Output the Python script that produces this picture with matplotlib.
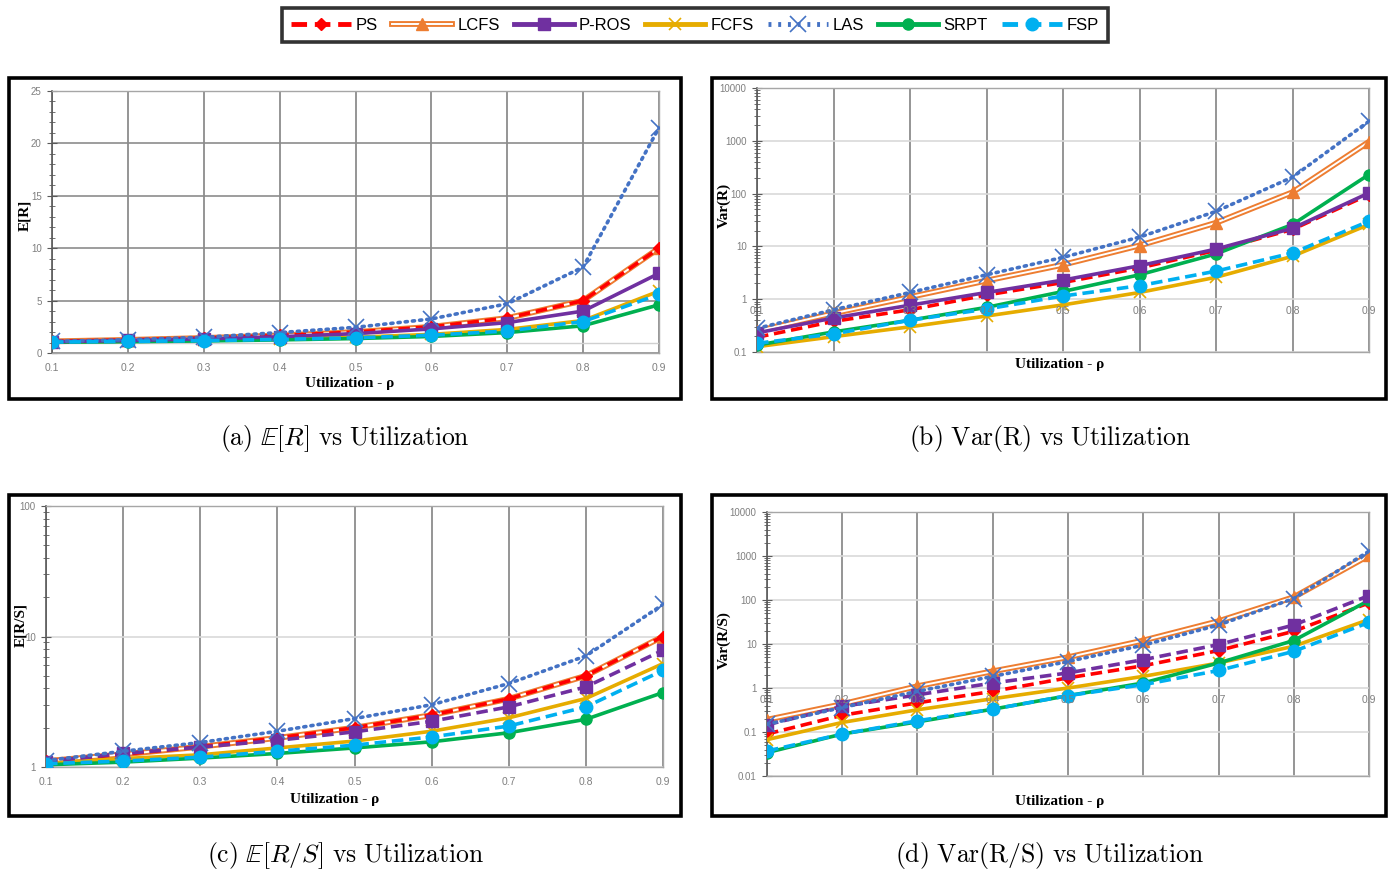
import matplotlib.pyplot as plt
from matplotlib.lines import Line2D
from matplotlib.patches import Rectangle
from matplotlib.ticker import MultipleLocator, LogLocator, NullFormatter
import numpy as np

plt.rcParams['mathtext.fontset'] = 'cm'

rho = [0.1, 0.2, 0.3, 0.4, 0.5, 0.6, 0.7, 0.8, 0.9]
rho_labels = ["0.1", "0.2", "0.3", "0.4", "0.5", "0.6", "0.7", "0.8", "0.9"]
schemes = ["PS", "LCFS", "P-ROS", "FCFS", "LAS", "SRPT", "FSP"]

# (a) E[R]
er_ps = [1.11, 1.25, 1.43, 1.67, 2.0, 2.5, 3.33, 5.0, 10.0]
er_lcfs = [1.11, 1.25, 1.43, 1.67, 2.0, 2.5, 3.33, 5.0, 10.0]
er_pros = [1.08, 1.2, 1.35, 1.55, 1.85, 2.3, 2.9, 4.0, 7.6]
er_fcfs = [1.05, 1.11, 1.2, 1.33, 1.5, 1.78, 2.25, 3.1, 5.9]
er_las = [1.1, 1.27, 1.5, 1.95, 2.45, 3.25, 4.7, 8.2, 21.5]
er_srpt = [1.03, 1.08, 1.15, 1.25, 1.38, 1.58, 1.95, 2.6, 4.6]
er_fsp = [1.04, 1.1, 1.18, 1.3, 1.45, 1.7, 2.1, 3.0, 5.6]

# (b) Var(R)
vr_ps = [0.19, 0.38, 0.63, 1.2, 2.07, 3.9, 8.4, 21, 96]
vr_lcfs = [0.25, 0.54, 1.1, 2.25, 4.5, 10.4, 28, 106, 960]
vr_pros = [0.23, 0.44, 0.77, 1.34, 2.3, 4.3, 8.9, 22, 103]
vr_fcfs = [0.126, 0.195, 0.30, 0.48, 0.78, 1.34, 2.6, 6.5, 26]
vr_las = [0.28, 0.63, 1.34, 2.9, 6.2, 15, 46, 205, 2350]
vr_srpt = [0.135, 0.24, 0.40, 0.70, 1.4, 2.9, 7.2, 26, 230]
vr_fsp = [0.146, 0.22, 0.40, 0.65, 1.15, 1.8, 3.4, 7.5, 30]

# (c) E[R/S]
ers_ps = [1.11, 1.25, 1.43, 1.67, 2.0, 2.5, 3.33, 5.0, 10.0]
ers_lcfs = [1.11, 1.25, 1.43, 1.67, 2.0, 2.5, 3.33, 5.0, 10.0]
ers_pros = [1.1, 1.27, 1.42, 1.6, 1.86, 2.24, 2.89, 4.11, 7.85]
ers_fcfs = [1.07, 1.16, 1.24, 1.4, 1.58, 1.88, 2.38, 3.35, 6.2]
ers_las = [1.12, 1.32, 1.54, 1.88, 2.35, 3.0, 4.36, 7.1, 17.6]
ers_srpt = [1.04, 1.09, 1.17, 1.27, 1.4, 1.56, 1.83, 2.32, 3.72]
ers_fsp = [1.06, 1.11, 1.19, 1.32, 1.47, 1.7, 2.06, 2.89, 5.5]

# (d) Var(R/S)
vrs_ps = [0.09, 0.24, 0.46, 0.84, 1.7, 3.2, 7.1, 19.5, 86]
vrs_lcfs = [0.19, 0.43, 1.1, 2.4, 5.0, 12, 33, 116, 1030]
vrs_pros = [0.146, 0.38, 0.7, 1.3, 2.2, 4.4, 9.7, 27, 126]
vrs_fcfs = [0.067, 0.165, 0.32, 0.57, 1.0, 1.84, 3.7, 8.9, 36]
vrs_las = [0.15, 0.36, 0.84, 1.84, 4.0, 9.4, 27, 108, 1290]
vrs_srpt = [0.034, 0.09, 0.17, 0.33, 0.67, 1.3, 3.7, 12, 98]
vrs_fsp = [0.037, 0.09, 0.18, 0.33, 0.67, 1.19, 2.5, 6.8, 31]

W, H = 1391, 871
fig = plt.figure(figsize=(W / 100, H / 100), dpi=100)

ORANGE = '#ed7d31'
styles = {
    "PS": dict(color='#ff0000', ls=(0, (3.2, 1.6)), marker='D', ms=6),
    "P-ROS": dict(color='#7030a0', ls='-', marker='s', ms=8),
    "FCFS": dict(color='#e6ac00', ls='-', marker='x', ms=9),
    "LAS": dict(color='#4472c4', ls=(0, (0.6, 1.4)), marker='x', ms=11),
    "SRPT": dict(color='#00b050', ls='-', marker='o', ms=8),
    "FSP": dict(color='#00b0f0', ls=(0, (3.2, 1.6)), marker='o', ms=9),
}
draw_order = ["LCFS", "PS", "FCFS", "SRPT", "P-ROS", "LAS", "FSP"]

def px_axes(left, top, right, bottom):
    return fig.add_axes([left / W, 1 - bottom / H, (right - left) / W, (bottom - top) / H])

def frame(left, top, right, bottom):
    fig.patches.append(Rectangle((left / W, 1 - bottom / H), (right - left) / W,
                                 (bottom - top) / H, transform=fig.transFigure,
                                 fill=False, lw=2.6, ec='black'))

def draw_series(ax, data, pros_dashed):
    for name in draw_order:
        y = data[name]
        if name == "LCFS":
            ax.plot(rho, y, color=ORANGE, lw=4.2, solid_capstyle='butt', zorder=3)
            ax.plot(rho, y, color='white', lw=1.4, zorder=3)
            ax.plot(rho, y, ls='none', marker='^', ms=8, color=ORANGE, zorder=3)
            continue
        st = dict(styles[name])
        if name == "P-ROS" and pros_dashed:
            st['ls'] = (0, (3.2, 1.6))
        mew = 1.2 if st['marker'] == 'x' else 1
        ax.plot(rho, y, color=st['color'], ls=st['ls'], lw=2.6, marker=st['marker'],
                ms=st['ms'], mew=mew, dash_capstyle='round' if name == "LAS" else 'butt',
                zorder=4)

def style_axes(ax, hgrid_color):
    ax.set_xlim(0.1, 0.9)
    ax.set_xticks(rho)
    ax.grid(True, axis='x', color='#8c8c8c', lw=1.3)
    ax.grid(True, axis='y', which='major', color=hgrid_color, lw=1.2)
    ax.set_axisbelow(True)
    for s in ['top', 'right', 'bottom']:
        ax.spines[s].set_color('#a6a6a6')
        ax.spines[s].set_linewidth(1)
    ax.spines['left'].set_color('#595959')
    ax.spines['left'].set_linewidth(1.2)
    ax.tick_params(axis='y', which='both', direction='inout', color='#595959',
                   labelsize=7, labelcolor='#7f7f7f', pad=4)
    ax.tick_params(axis='y', which='major', length=7)
    ax.tick_params(axis='y', which='minor', length=5)
    ax.tick_params(axis='x', length=0, labelsize=7.5, labelcolor='#7f7f7f', pad=7)
    for lbl in ax.get_xticklabels() + ax.get_yticklabels():
        lbl.set_family('Liberation Sans')

def labels_at_one(ax):
    ax.set_xticklabels([])
    for x, lbl in zip(rho, rho_labels):
        ax.annotate(lbl, (x, 1), xytext=(0, -5), textcoords='offset points',
                    ha='center', va='top', fontsize=7.5, color='#7f7f7f',
                    family='Liberation Sans', annotation_clip=False, zorder=6)

def log_y(ax, lo, hi):
    ax.set_yscale('log')
    ax.set_ylim(lo, hi)
    ticks = [10.0 ** k for k in range(int(np.log10(lo)), int(np.log10(hi)) + 1)]
    ax.set_yticks(ticks, [("%g" % t) for t in ticks])
    ax.yaxis.set_minor_locator(LogLocator(base=10, subs=np.arange(2, 10)))
    ax.yaxis.set_minor_formatter(NullFormatter())

lab_font = dict(family='Liberation Serif', weight='bold', fontsize=11)
cap_font = dict(fontsize=18.5)

# ---------- (a) ----------
frame(9, 78, 681, 399)
ax = px_axes(52, 91, 659, 353)
style_axes(ax, '#8c8c8c')
ax.set_ylim(0, 25)
ax.yaxis.set_major_locator(MultipleLocator(5))
ax.yaxis.set_minor_locator(MultipleLocator(1))
ax.set_xticklabels(rho_labels)
ax.axhline(1, color='#d0d0d0', lw=1, zorder=1)
draw_series(ax, {"PS": er_ps, "LCFS": er_lcfs, "P-ROS": er_pros, "FCFS": er_fcfs,
                 "LAS": er_las, "SRPT": er_srpt, "FSP": er_fsp}, False)
fig.text(25 / W, 1 - 215 / H, "E[R]", rotation=90, ha='center', va='center', **lab_font)
fig.text(350 / W, 1 - 383 / H, "Utilization - ρ", ha='center', va='center', **lab_font)
fig.text(345 / W, 1 - 438 / H, r"$\mathrm{(a)}\ \mathbb{E}[R]\ \mathrm{vs\ Utilization}$",
         ha='center', va='center', **cap_font)

# ---------- (b) ----------
frame(712, 78, 1386, 399)
ax = px_axes(757, 88, 1369, 352)
style_axes(ax, '#d9d9d9')
log_y(ax, 0.1, 10000)
labels_at_one(ax)
draw_series(ax, {"PS": vr_ps, "LCFS": vr_lcfs, "P-ROS": vr_pros, "FCFS": vr_fcfs,
                 "LAS": vr_las, "SRPT": vr_srpt, "FSP": vr_fsp}, False)
fig.text(724 / W, 1 - 205 / H, "Var(R)", rotation=90, ha='center', va='center', **lab_font)
fig.text(1060 / W, 1 - 364 / H, "Utilization - ρ", ha='center', va='center', **lab_font)
fig.text(1050 / W, 1 - 438 / H, r"$\mathrm{(b)\ Var(R)\ vs\ Utilization}$",
         ha='center', va='center', **cap_font)

# ---------- (c) ----------
frame(9, 495, 681, 816)
ax = px_axes(46, 506, 663, 767)
style_axes(ax, '#d9d9d9')
log_y(ax, 1, 100)
ax.set_xticklabels(rho_labels)
draw_series(ax, {"PS": ers_ps, "LCFS": ers_lcfs, "P-ROS": ers_pros, "FCFS": ers_fcfs,
                 "LAS": ers_las, "SRPT": ers_srpt, "FSP": ers_fsp}, True)
fig.text(21 / W, 1 - 625 / H, "E[R/S]", rotation=90, ha='center', va='center', **lab_font)
fig.text(335 / W, 1 - 799 / H, "Utilization - ρ", ha='center', va='center', **lab_font)
fig.text(345 / W, 1 - 855 / H, r"$\mathrm{(c)}\ \mathbb{E}[R/S]\ \mathrm{vs\ Utilization}$",
         ha='center', va='center', **cap_font)

# ---------- (d) ----------
frame(712, 495, 1386, 816)
ax = px_axes(767, 512, 1369, 776)
style_axes(ax, '#d9d9d9')
log_y(ax, 0.01, 10000)
labels_at_one(ax)
draw_series(ax, {"PS": vrs_ps, "LCFS": vrs_lcfs, "P-ROS": vrs_pros, "FCFS": vrs_fcfs,
                 "LAS": vrs_las, "SRPT": vrs_srpt, "FSP": vrs_fsp}, True)
fig.text(724 / W, 1 - 640 / H, "Var(R/S)", rotation=90, ha='center', va='center', **lab_font)
fig.text(1060 / W, 1 - 801 / H, "Utilization - ρ", ha='center', va='center', **lab_font)
fig.text(1050 / W, 1 - 855 / H, r"$\mathrm{(d)\ Var(R/S)\ vs\ Utilization}$",
         ha='center', va='center', **cap_font)

# ---------- legend ----------
handles = []
for name in schemes:
    if name == "LCFS":
        handles.append((Line2D([], [], color=ORANGE, lw=4.2),
                        Line2D([], [], color='white', lw=1.4),
                        Line2D([], [], ls='none', marker='^', ms=8, color=ORANGE)))
    else:
        st = styles[name]
        handles.append(Line2D([], [], color=st['color'], ls=st['ls'], lw=3.5,
                              marker=st['marker'], ms=st['ms'],
                              mew=1.2 if st['marker'] == 'x' else 1))
leg = fig.legend(handles, schemes, loc='center', bbox_to_anchor=(695 / W, 1 - 25 / H),
                 ncol=7, frameon=True, fancybox=False, edgecolor='black',
                 handlelength=3.6, columnspacing=0.85, handletextpad=0.3,
                 prop=dict(family='Liberation Sans', size=12), borderpad=0.55)
leg.get_frame().set_linewidth(2.6)

fig.savefig("out.png", dpi=100)
